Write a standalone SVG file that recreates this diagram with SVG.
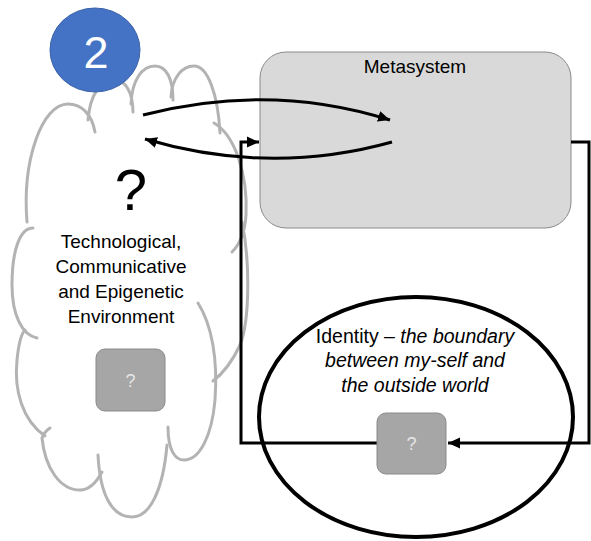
<svg xmlns="http://www.w3.org/2000/svg" width="591" height="541" viewBox="0 0 591 541">
<defs>
<style>
text{font-family:"Liberation Sans",Arial,sans-serif;fill:#000}
.lobe{fill:none;stroke:#b3b3b3;stroke-width:3;stroke-linecap:round}
.conn{fill:none;stroke:#000;stroke-width:3}
.box{fill:#a6a6a6;stroke:#8a8a8a;stroke-width:1}
.q{fill:#e6e6e6;font-size:18px;text-anchor:middle}
.lbl{font-size:19px;text-anchor:middle}
.idl{font-size:19.5px;text-anchor:middle}
</style>
<marker id="ah" markerUnits="userSpaceOnUse" markerWidth="14" markerHeight="14" viewBox="0 0 14 14" refX="12" refY="7" orient="auto">
<path d="M0,1.5 L12,7 L0,12.5 Z" fill="#000"/>
</marker>
</defs>
<rect width="591" height="541" fill="#fff"/>

<g id="cloud">
<path class="lobe" d="M27,222 C22,160 42,104 68,104 C82,104 92,115 95,132"/>
<path class="lobe" d="M88,120 C90,95 100,80 115,80 C125,80 133,92 133,112"/>
<path class="lobe" d="M131,104 C132,80 142,66 155,66 C167,66 173,80 173,100"/>
<path class="lobe" d="M171,97 C172,78 182,66 194,66 C208,66 218,95 220,133"/>
<path class="lobe" d="M214,123 C235,135 248,175 246,215 C245,232 239,245 232,252"/>
<path class="lobe" d="M242,222 C250,260 250,320 240,345 C233,360 225,372 213,381"/>
<path class="lobe" d="M198,303 C212,325 218,360 215,400 C212,435 200,460 184,460 C175,460 168,450 168,427"/>
<path class="lobe" d="M167,445 C163,490 150,517 132,517 C112,517 100,495 98,455"/>
<path class="lobe" d="M102,472 C95,485 88,490 80,490 C60,490 45,468 42,438 Q44,432 50,428"/>
<path class="lobe" d="M45,436 C22,420 14,390 17,360 C19,340 22,333 25,330"/>
<path class="lobe" d="M37,338 C22,335 12,315 12,285 C12,250 20,228 33,228"/>
<text x="131" y="210" style="font-size:58px" text-anchor="middle">?</text>
<text class="lbl" x="121" y="248">Technological,</text>
<text class="lbl" x="121" y="273">Communicative</text>
<text class="lbl" x="121" y="298">and Epigenetic</text>
<text class="lbl" x="121" y="323">Environment</text>
</g>

<g id="badge">
<ellipse cx="95" cy="50" rx="45" ry="42" fill="#4472c4" stroke="#3a62a8" stroke-width="1"/>
<text x="96" y="68" style="font-size:45px;fill:#fff" text-anchor="middle">2</text>
</g>

<g id="env-box">
<rect class="box" x="96" y="349" width="69" height="62" rx="9"/>
<text class="q" x="130.5" y="387">?</text>
</g>

<g id="metasystem">
<rect x="260" y="52" width="311" height="176" rx="26" fill="#d9d9d9" stroke="#8a8a8a" stroke-width="1"/>
<text class="lbl" x="415" y="73">Metasystem</text>
</g>

<g id="identity">
<ellipse cx="416" cy="417" rx="157" ry="120" fill="none" stroke="#000" stroke-width="4"/>
<text class="idl" x="415" y="343">Identity – <tspan font-style="italic">the boundary</tspan></text>
<text class="idl" x="415" y="367" font-style="italic">between my-self and</text>
<text class="idl" x="415" y="392" font-style="italic">the outside world</text>
</g>

<g id="connectors">
<path class="conn" d="M143,115 Q270,82 390,120" marker-end="url(#ah)"/>
<path class="conn" d="M392,142 Q270,176 145,139" marker-end="url(#ah)"/>
<path class="conn" d="M571,142 H589 V443 H448" marker-end="url(#ah)"/>
<path class="conn" d="M377,443 H241 V142 H259" marker-end="url(#ah)"/>
</g>

<g id="identity-box">
<rect class="box" x="377" y="413" width="69" height="61" rx="9"/>
<text class="q" x="411.5" y="450">?</text>
</g>
</svg>
